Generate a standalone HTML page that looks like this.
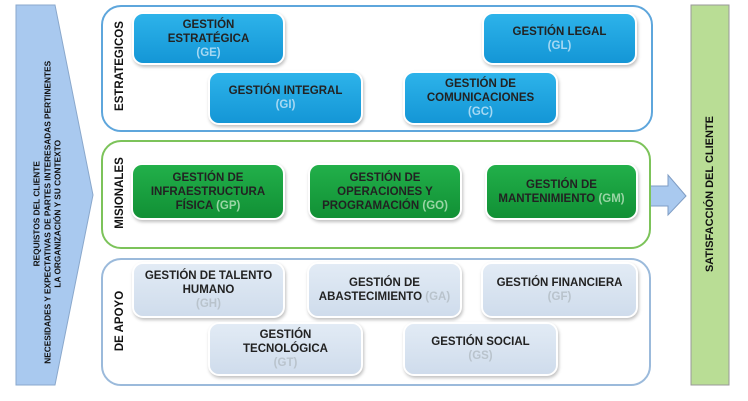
<!DOCTYPE html>
<html><head><meta charset="utf-8"><style>
body{margin:0;width:748px;height:401px;background:#fff;position:relative;overflow:hidden;font-family:"Liberation Sans",Arial,sans-serif;font-weight:bold}
.p{position:absolute;border-radius:20px;background:#fff}
.b{position:absolute;border-radius:9px;display:flex;flex-direction:column;align-items:center;justify-content:center;text-align:center;font-size:11.5px;line-height:14px;color:#222;box-shadow:0 0 0 2px #fff,1px 2px 3px 2px rgba(0,0,0,.25)}
.bl{background:linear-gradient(#2db3ea,#1496d6)}
.gr{background:linear-gradient(#22b04a,#119035)}
.gy{background:linear-gradient(#e2ebf5,#cfdcec)}
.c{color:#b9c3cc}
.bl .c{color:#a6d8f2}.gr .c{color:#9ad5a5}
.v{position:absolute;transform:rotate(-90deg);white-space:nowrap;font-size:11.5px;color:#111;transform-origin:center}
</style></head><body>
<svg width="748" height="401" style="position:absolute;left:0;top:0">
<polygon points="16,5 55,5 93,195 55,385 16,385" fill="#a9c9ef" stroke="#8aa8cc"/>
<polygon points="650,186 668,186 668,175 686,196 668,215 668,206 650,206" fill="#a9c9ef" stroke="#7f9dc4"/>
<rect x="691" y="5" width="38" height="380" fill="#b9dd95" stroke="#999"/>
</svg>
<div class="v" style="left:-103px;top:198px;width:300px;text-align:center;font-size:8.3px;line-height:10.5px">REQUISTOS DEL CLIENTE<br>NECESIDADES Y EXPECTATIVAS DE PARTES INTERESADAS PERTINENTES<br>LA ORGANIZACIÓN Y SU CONTEXTO</div>
<div class="v" style="left:610px;top:188px;width:200px;text-align:center;font-size:11px">SATISFACCIÓN DEL CLIENTE</div>
<div class="p" style="left:101px;top:5px;width:548px;height:123px;border:2px solid #5ea6dc"></div>
<div class="p" style="left:101px;top:140px;width:546px;height:105px;border:2px solid #7cc35a"></div>
<div class="p" style="left:101px;top:258px;width:546px;height:124px;border:2px solid #9bbadb"></div>
<div class="v" style="left:70px;top:60px;width:100px;text-align:center">ESTRATEGICOS</div>
<div class="v" style="left:70px;top:187px;width:100px;text-align:center">MISIONALES</div>
<div class="v" style="left:70px;top:315px;width:100px;text-align:center">DE APOYO</div>

<div class="b bl" style="left:134px;top:14px;width:149px;height:49px">GESTIÓN<br>ESTRATÉGICA<span class="c">(GE)</span></div>
<div class="b bl" style="left:484px;top:14px;width:151px;height:49px">GESTIÓN LEGAL<span class="c">(GL)</span></div>
<div class="b bl" style="left:210px;top:73px;width:151px;height:50px">GESTIÓN INTEGRAL<span class="c">(GI)</span></div>
<div class="b bl" style="left:405px;top:73px;width:151px;height:50px">GESTIÓN DE<br>COMUNICACIONES<span class="c">(GC)</span></div>

<div class="b gr" style="left:133px;top:165px;width:150px;height:53px">GESTIÓN DE<br>INFRAESTRUCTURA<br><span>FÍSICA <span class="c">(GP)</span></span></div>
<div class="b gr" style="left:310px;top:165px;width:150px;height:53px">GESTIÓN DE<br>OPERACIONES Y<br><span>PROGRAMACIÓN <span class="c">(GO)</span></span></div>
<div class="b gr" style="left:487px;top:165px;width:149px;height:53px">GESTIÓN DE<br><span>MANTENIMIENTO <span class="c">(GM)</span></span></div>

<div class="b gy" style="left:134px;top:264px;width:149px;height:52px">GESTIÓN DE TALENTO<br>HUMANO<span class="c">(GH)</span></div>
<div class="b gy" style="left:309px;top:264px;width:151px;height:52px">GESTIÓN DE<br><span>ABASTECIMIENTO <span class="c">(GA)</span></span></div>
<div class="b gy" style="left:483px;top:264px;width:153px;height:52px">GESTIÓN FINANCIERA<span class="c">(GF)</span></div>
<div class="b gy" style="left:210px;top:324px;width:151px;height:50px">GESTIÓN<br>TECNOLÓGICA<span class="c">(GT)</span></div>
<div class="b gy" style="left:405px;top:324px;width:151px;height:50px">GESTIÓN SOCIAL<span class="c">(GS)</span></div>
</body></html>
